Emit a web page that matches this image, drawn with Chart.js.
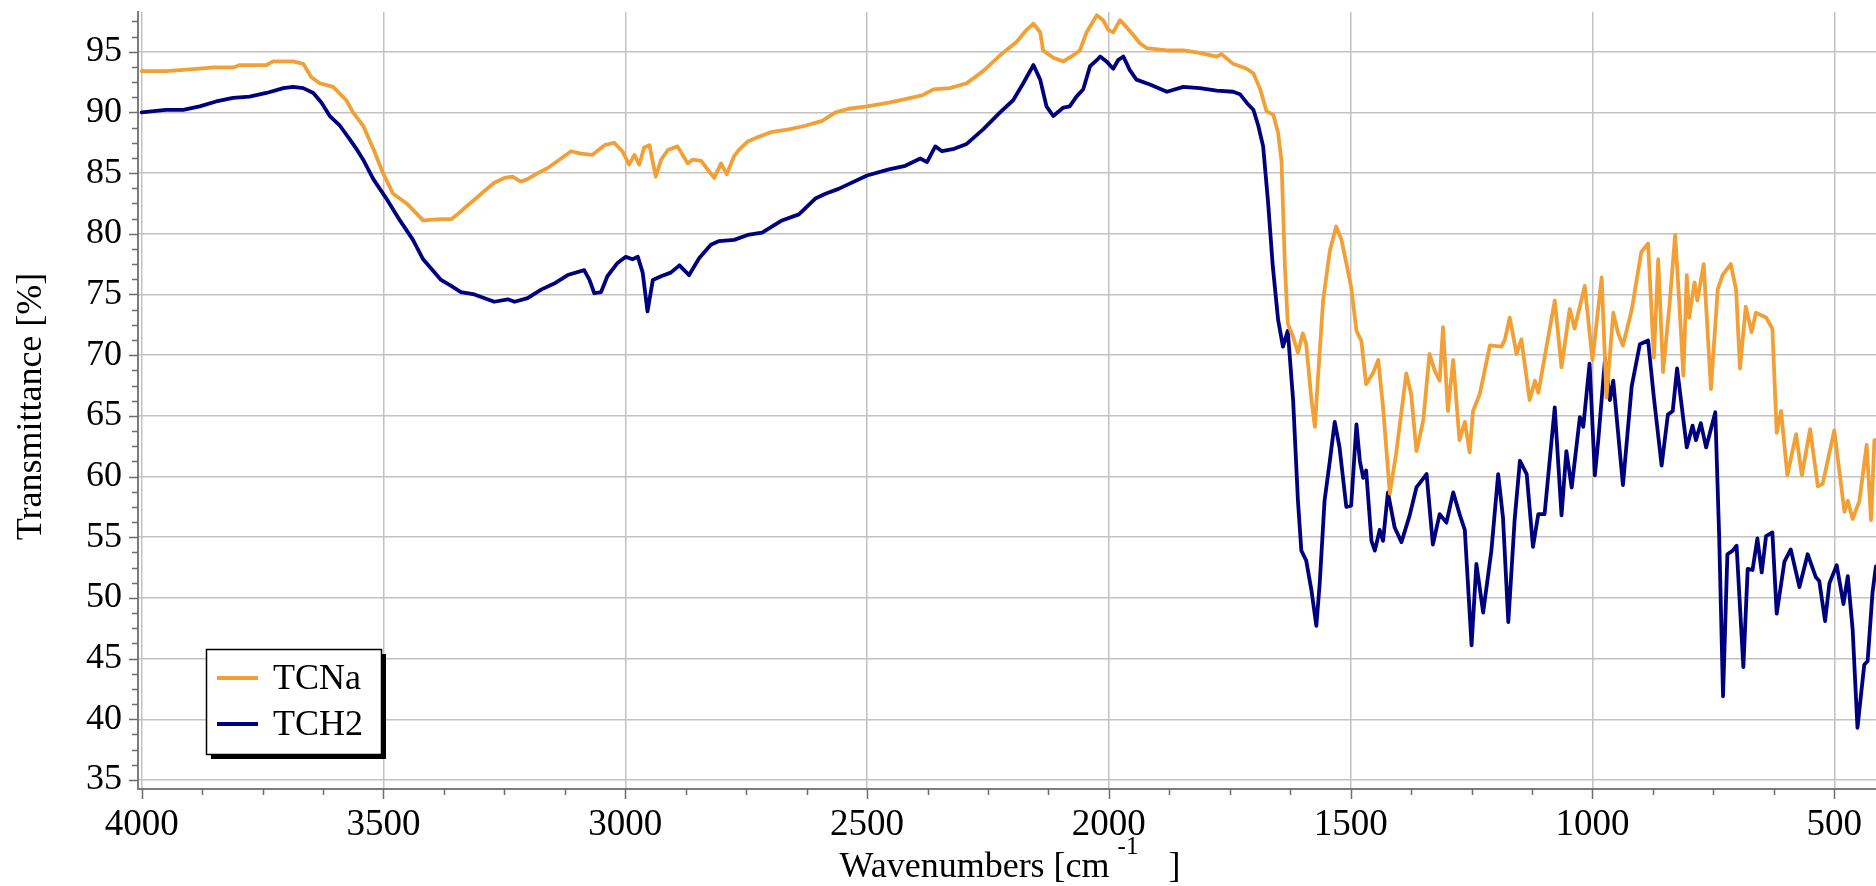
<!DOCTYPE html>
<html>
<head>
<meta charset="utf-8">
<script src="https://cdn.jsdelivr.net/npm/chart.js@4"></script>
<style>
  html, body { margin: 0; padding: 0; background: #ffffff; }
  #wrap { position: relative; width: 1876px; height: 886px; }
</style>
</head>
<body>
<div id="wrap"><canvas id="c"></canvas></div>
<script>
// ---------- data ----------
const SERIES_NAMES = ['TCNa', 'TCH2'];

const TCNA_WN = [4000,3950,3914,3880,3850,3811,3797,3742,3728,3687,3666,3649,3632,3604,3577,3563,3542,3521,3501,3480,3452,3418,3381,3360,3347,3333,3312,3292,3271,3250,3233,3216,3202,3181,3161,3140,3112,3092,3068,3043,3023,3006,2992,2981,2971,2961,2950,2937,2926,2912,2892,2871,2861,2843,2830,2816,2802,2790,2775,2763,2747,2730,2696,2662,2628,2593,2565,2538,2500,2455,2421,2386,2363,2329,2294,2260,2225,2191,2170,2156,2142,2136,2115,2094,2074,2060,2046,2025,2012,2001,1991,1977,1963,1950,1936,1922,1880,1846,1812,1777,1767,1743,1715,1701,1687,1674,1660,1650,1643,1636,1630,1619,1609,1599,1592,1581,1574,1568,1557,1543,1530,1519,1506,1499,1488,1478,1468,1454,1443,1433,1419,1406,1385,1375,1364,1350,1337,1326,1316,1309,1299,1288,1275,1264,1254,1247,1233,1212,1188,1181,1171,1157,1147,1130,1119,1112,1095,1078,1064,1047,1037,1016,1000,981,971,957,947,937,919,899,885,873,864,854,841,829,820,812,805,800,789,783,770,755,741,731,714,703,695,683,671,662,641,628,619,610,597,579,567,550,534,524,500,479,472,462,448,433,424,417,414];
const TCNA_T = [93.4,93.4,93.5,93.6,93.7,93.7,93.9,93.9,94.2,94.2,94.0,92.9,92.4,92.1,91.0,90.0,88.9,87.0,85.0,83.3,82.5,81.1,81.2,81.2,81.6,82.1,82.8,83.5,84.2,84.6,84.7,84.3,84.5,85.0,85.4,86.0,86.8,86.6,86.5,87.3,87.5,86.8,85.7,86.5,85.7,87.1,87.3,84.7,86.1,86.9,87.2,85.8,86.1,86.0,85.3,84.6,85.8,84.9,86.4,87.0,87.6,87.9,88.4,88.6,88.9,89.3,90.0,90.3,90.5,90.8,91.1,91.4,91.9,92.0,92.4,93.4,94.7,95.8,96.8,97.3,96.6,95.1,94.5,94.2,94.7,95.1,96.6,98.0,97.6,96.8,96.6,97.6,97.0,96.4,95.7,95.3,95.1,95.1,94.9,94.6,94.8,94.0,93.6,93.2,91.9,90.1,89.8,88.3,86.0,77.3,72.6,71.5,70.2,71.8,70.9,66.3,64.1,67.9,74.5,78.6,80.6,79.5,77.0,75.6,72.0,71.2,67.6,68.5,69.6,65.7,58.6,61.9,68.5,66.8,62.1,64.6,70.1,68.7,67.9,72.3,65.4,69.6,63.0,64.5,62.0,65.4,66.8,70.8,70.7,71.3,73.1,70.1,71.3,66.3,67.9,66.9,70.7,74.5,69.0,73.8,72.2,75.7,69.6,76.4,66.5,73.5,71.8,70.8,73.7,78.5,79.2,69.8,77.9,68.6,74.0,79.9,74.0,68.3,76.6,73.1,76.0,74.5,77.5,67.2,75.4,76.6,77.5,75.4,68.9,74.0,71.9,73.5,73.1,72.2,63.6,65.4,60.1,63.5,60.1,63.9,59.2,59.4,63.8,57.1,58.0,56.5,58.0,62.6,56.4,63.0,63.0];

const TCH2_WN = [4000,3950,3914,3880,3846,3811,3777,3742,3707,3687,3666,3645,3628,3611,3590,3570,3556,3542,3521,3494,3466,3439,3418,3381,3360,3340,3312,3271,3243,3229,3202,3174,3147,3119,3085,3074,3064,3050,3037,3016,2999,2985,2974,2964,2954,2943,2926,2906,2888,2868,2847,2823,2806,2775,2747,2717,2676,2641,2607,2586,2559,2500,2455,2421,2390,2376,2359,2345,2320,2294,2260,2225,2198,2177,2156,2142,2129,2115,2094,2081,2067,2053,2039,2025,2018,2005,1991,1981,1970,1957,1943,1915,1880,1846,1812,1777,1743,1729,1715,1701,1691,1681,1671,1661,1650,1640,1630,1619,1609,1602,1592,1581,1571,1564,1554,1543,1533,1523,1509,1499,1488,1481,1474,1468,1457,1450,1440,1433,1423,1409,1395,1378,1364,1343,1330,1316,1302,1288,1274,1264,1250,1240,1226,1209,1195,1185,1174,1161,1150,1136,1123,1112,1099,1078,1064,1054,1043,1026,1019,1006,995,988,974,964,957,937,919,902,885,873,857,844,834,825,817,805,793,786,776,765,746,738,730,721,710,702,688,679,669,659,650,641,628,619,603,590,572,555,538,531,519,510,495,481,472,462,452,438,431,421,414];
const TCH2_T = [90.0,90.2,90.2,90.5,90.9,91.2,91.3,91.6,92.0,92.1,92.0,91.6,90.8,89.7,88.9,87.8,87.0,86.1,84.5,82.9,81.1,79.5,77.9,76.2,75.7,75.2,75.0,74.4,74.6,74.4,74.7,75.4,75.9,76.6,77.0,76.2,75.1,75.2,76.5,77.6,78.1,77.9,78.1,76.8,73.6,76.2,76.5,76.8,77.4,76.6,78.0,79.1,79.4,79.5,79.9,80.1,81.1,81.6,82.9,83.3,83.7,84.8,85.3,85.6,86.2,85.9,87.2,86.8,87.0,87.4,88.6,90.0,91.0,92.4,93.9,92.7,90.5,89.7,90.4,90.5,91.3,91.9,93.8,94.3,94.6,94.2,93.6,94.3,94.6,93.5,92.7,92.3,91.7,92.1,92.0,91.8,91.7,91.5,90.8,90.2,88.9,87.2,82.7,77.3,72.9,70.7,72.0,66.3,58.0,53.9,53.1,50.6,47.7,51.2,58.0,61.3,64.5,62.4,57.5,57.6,64.3,61.3,59.9,60.5,54.7,53.9,55.6,54.7,58.7,55.8,54.6,56.8,59.1,60.2,54.4,56.9,56.2,58.7,56.8,55.6,46.1,52.8,48.8,53.9,60.2,56.6,48.0,56.4,61.3,60.2,54.2,56.9,56.9,65.7,56.8,62.1,59.1,64.9,64.1,69.3,60.1,63.0,69.7,66.3,67.9,59.3,67.4,70.9,71.2,66.5,60.9,65.1,65.4,68.9,66.3,62.4,64.2,63.0,64.4,62.4,65.3,55.1,41.9,53.6,53.9,54.3,44.3,52.4,52.3,54.9,52.1,55.1,55.4,48.7,53.0,54.0,50.9,53.6,51.7,51.4,48.1,51.2,52.7,49.5,51.8,47.4,39.3,44.5,44.8,50.4,52.6];

const X_TICKS = [4000,3500,3000,2500,2000,1500,1000,500];
const Y_TICKS = [35,40,45,50,55,60,65,70,75,80,85,90,95];
const X_TITLE = 'Wavenumbers [cm';
const X_TITLE_SUP = '-1';
const X_TITLE_END = ']';
const Y_TITLE = 'Transmittance [%]';

// ---------- styling ----------
const COLORS = ['#F2A036', '#00007F'];
const FONT = "'Liberation Serif', 'Times New Roman', serif";

function toPoints(wn, t) { return wn.map((w, i) => ({ x: w, y: t[i] })); }

function noPad(s) { s.paddingTop = 0; s.paddingBottom = 0; s.paddingLeft = 0; s.paddingRight = 0; }

const decor = {
  id: 'decor',
  afterDraw(chart) {
    const { ctx, chartArea: ca, scales } = chart;
    const xs = scales.x, ys = scales.y;
    ctx.save();
    // tick marks (major + minor)
    ctx.strokeStyle = '#6e6e6e';
    ctx.lineWidth = 1.5;
    ctx.beginPath();
    for (let v = 500; v <= 4000; v += 125) {
      const px = Math.round(xs.getPixelForValue(v)) + 0.5;
      const len = (v % 500 === 0) ? 10 : 6;
      ctx.moveTo(px, ca.bottom);
      ctx.lineTo(px, ca.bottom + len);
    }
    for (let v = 35; v <= 97.6; v += 1.25) {
      const py = Math.round(ys.getPixelForValue(v)) + 0.5;
      const len = (Math.abs(v % 5) < 1e-6) ? 9 : 6;
      ctx.moveTo(ca.left, py);
      ctx.lineTo(ca.left - len, py);
    }
    ctx.stroke();

    // x title with superscript
    ctx.fillStyle = '#000';
    ctx.textBaseline = 'alphabetic';
    ctx.textAlign = 'left';
    ctx.font = '36px ' + FONT;
    const w1 = ctx.measureText(X_TITLE).width;
    ctx.font = '25px ' + FONT;
    const w2 = ctx.measureText(X_TITLE_SUP).width;
    ctx.font = '36px ' + FONT;
    const w3 = ctx.measureText(X_TITLE_END).width;
    const gap1 = 8, gap2 = 30;
    const total = w1 + gap1 + w2 + gap2 + w3;
    const cx = (ca.left + ca.right) / 2 + 3;
    const x0 = cx - total / 2;
    const base = 877;
    ctx.fillText(X_TITLE, x0, base);
    ctx.font = '25px ' + FONT;
    ctx.fillText(X_TITLE_SUP, x0 + w1 + gap1, base - 23);
    ctx.font = '36px ' + FONT;
    ctx.fillText(X_TITLE_END, x0 + w1 + gap1 + w2 + gap2, base);

    // y title
    ctx.save();
    ctx.translate(32, (ca.top + ca.bottom) / 2 + 6);
    ctx.rotate(-Math.PI / 2);
    ctx.textAlign = 'center';
    ctx.textBaseline = 'middle';
    ctx.font = '36px ' + FONT;
    ctx.fillText(Y_TITLE, 0, 0);
    ctx.restore();

    // legend box with shadow
    const bx = 206, by = 649, bw = 175, bh = 105;
    ctx.fillStyle = '#000';
    ctx.fillRect(bx + 5, by + 5, bw, bh);
    ctx.fillStyle = '#fff';
    ctx.fillRect(bx, by, bw, bh);
    ctx.strokeStyle = '#000';
    ctx.lineWidth = 1.5;
    ctx.strokeRect(bx + 0.5, by + 0.5, bw, bh);
    const rows = [678, 724];
    chart.data.datasets.forEach((ds, i) => {
      ctx.strokeStyle = ds.borderColor;
      ctx.lineWidth = 4;
      ctx.beginPath();
      ctx.moveTo(217, rows[i]);
      ctx.lineTo(258, rows[i]);
      ctx.stroke();
      ctx.fillStyle = '#000';
      ctx.font = '36px ' + FONT;
      ctx.textAlign = 'left';
      ctx.textBaseline = 'middle';
      ctx.fillText(ds.label, 273, rows[i] + 2);
    });
    ctx.restore();
  }
};

new Chart(document.getElementById('c'), {
  type: 'line',
  data: {
    datasets: [
      { label: SERIES_NAMES[0], data: toPoints(TCNA_WN, TCNA_T), borderColor: COLORS[0], borderWidth: 3.8,
        pointRadius: 0, tension: 0, fill: false, borderJoinStyle: 'round', borderCapStyle: 'round' },
      { label: SERIES_NAMES[1], data: toPoints(TCH2_WN, TCH2_T), borderColor: COLORS[1], borderWidth: 3.8,
        pointRadius: 0, tension: 0, fill: false, borderJoinStyle: 'round', borderCapStyle: 'round' }
    ]
  },
  options: {
    animation: false,
    responsive: true,
    maintainAspectRatio: false,
    layout: { padding: { top: 12, left: 0, right: 0, bottom: 0 } },
    plugins: { legend: { display: false }, tooltip: { enabled: false } },
    scales: {
      x: {
        type: 'linear', reverse: true, min: 413.7, max: 4007.6,
        afterBuildTicks: s => { s.ticks = X_TICKS.map(v => ({ value: v })); },
        afterFit: s => { s.height = 97; noPad(s); },
        grid: { color: '#c2c2c2', lineWidth: 1.5, drawTicks: false },
        border: { color: '#7c7c7c', width: 2 },
        ticks: { font: { family: FONT, size: 37 }, color: '#000', padding: 14, maxRotation: 0, autoSkip: false,
                 callback: v => String(v) }
      },
      y: {
        min: 34.26, max: 98.27,
        afterBuildTicks: s => { s.ticks = Y_TICKS.map(v => ({ value: v })); },
        afterFit: s => { s.width = 138; noPad(s); },
        grid: { color: '#c2c2c2', lineWidth: 1.5, drawTicks: false },
        border: { color: '#7c7c7c', width: 2 },
        ticks: { font: { family: FONT, size: 36 }, color: '#000', padding: 16, autoSkip: false,
                 callback: v => String(v) }
      }
    }
  },
  plugins: [decor]
});
</script>
</body>
</html>
